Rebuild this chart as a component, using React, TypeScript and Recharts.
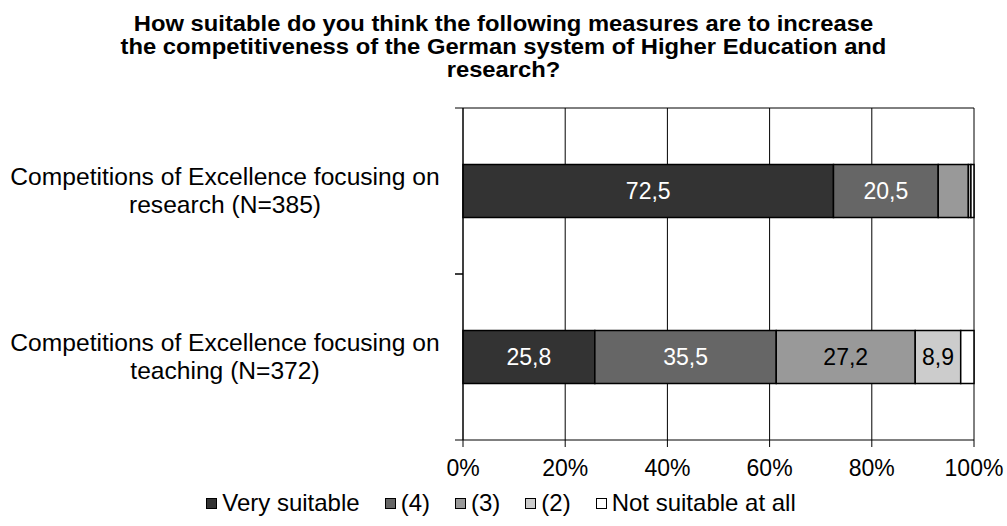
import React from 'react';
import { BarChart, Bar, XAxis, YAxis, CartesianGrid, Legend, LabelList } from 'recharts';

const categories = [
    'Competitions of Excellence focusing on\nresearch (N=385)',
    'Competitions of Excellence focusing on\nteaching (N=372)'
];
const verySuitable = [72.5, 25.8];
const rating4 = [20.5, 35.5];
const rating3 = [5.9, 27.2];
const rating2 = [0.5, 8.9];
const notSuitable = [0.6, 2.6];
const xTicks = [0, 20, 40, 60, 80, 100];

const seriesList = [
    { key: 'verySuitable', name: 'Very suitable', values: verySuitable, color: '#333333', labelColor: '#ffffff' },
    { key: 'rating4', name: '(4)', values: rating4, color: '#666666', labelColor: '#ffffff' },
    { key: 'rating3', name: '(3)', values: rating3, color: '#999999', labelColor: '#000000' },
    { key: 'rating2', name: '(2)', values: rating2, color: '#cccccc', labelColor: '#000000' },
    { key: 'notSuitable', name: 'Not suitable at all', values: notSuitable, color: '#ffffff', labelColor: '#000000' }
];

const data = categories.map((category, i) => {
    const row: Record<string, string | number> = { category };
    seriesList.forEach(s => { row[s.key] = s.values[i]; });
    return row;
});

const chartWidth = 1007;
const chartHeight = 526;
const margin = { top: 108, right: 33, bottom: 8, left: 0 };
const legendHeight = 30;
const xAxisHeight = 48;
const plotHeight = chartHeight - margin.top - margin.bottom - legendHeight - xAxisHeight;
const font = '"Liberation Sans", Arial, sans-serif';

const formatLabel = (v: any) => (Number(v) >= 8 ? String(v).replace('.', ',') : '');

const CategoryTick = (props: any) => {
    const { x, y, payload } = props;
    const lines = String(payload.value).split('\n');
    const band = plotHeight / categories.length;
    const cx = x - 238;
    return (
        <g>
            <line x1={x - 8} x2={x} y1={y - band / 2} y2={y - band / 2} stroke="#000" />
            <line x1={x - 8} x2={x} y1={y + band / 2} y2={y + band / 2} stroke="#000" />
            <text x={cx} y={y} textAnchor="middle" fontSize={24.6} fill="#000" fontFamily={font}>
                {lines.map((line, i) => (
                    <tspan key={i} x={cx} dy={i === 0 ? -6 : 28}>{line}</tspan>
                ))}
            </text>
        </g>
    );
};

// legend follows the series order, not the (reversed) payload order
const LegendContent = () => (
    <div style={{ display: 'flex', justifyContent: 'center', alignItems: 'center', height: legendHeight, paddingLeft: 28, fontFamily: font, fontSize: 24, color: '#000' }}>
        {seriesList.map((s, i) => (
            <div key={s.key} style={{ display: 'flex', alignItems: 'center', marginLeft: i === 0 ? 0 : 25 }}>
                <span style={{ display: 'inline-block', width: 9, height: 9, border: '1.5px solid #000', background: s.color, marginRight: 5 }} />
                <span>{s.name}</span>
            </div>
        ))}
    </div>
);

const App = () => {
    return (
        <div style={{ position: 'absolute', left: 0, top: 0, width: chartWidth, height: chartHeight, background: '#fff' }}>
            <div style={{ position: 'absolute', left: 0, top: 12, width: chartWidth, textAlign: 'center', fontFamily: font, fontWeight: 'bold', fontSize: 22, lineHeight: '23px', color: '#000', transform: 'scaleX(1.08)', transformOrigin: '50% 0' }}>
                How suitable do you think the following measures are to increase<br />
                the competitiveness of the German system of Higher Education and<br />
                research?
            </div>
            <BarChart width={chartWidth} height={chartHeight} data={data} layout="vertical" margin={margin} barCategoryGap="34%">
                <CartesianGrid
                    stroke="#000"
                    horizontalCoordinatesGenerator={({ offset }: any) => [offset.top]}
                />
                <XAxis
                    type="number"
                    domain={[0, 100]}
                    ticks={xTicks}
                    tickFormatter={v => `${v}%`}
                    height={xAxisHeight}
                    tickSize={7}
                    tickMargin={13}
                    stroke="#000"
                    tick={{ fill: '#000', fontSize: 23, fontFamily: font }}
                />
                <YAxis
                    type="category"
                    dataKey="category"
                    width={463}
                    tickSize={0}
                    tickMargin={0}
                    stroke="#000"
                    tick={<CategoryTick />}
                />
                <Legend verticalAlign="bottom" height={legendHeight} content={<LegendContent />} />
                {seriesList.map(s => (
                    <Bar
                        key={s.key}
                        dataKey={s.key}
                        name={s.name}
                        stackId="a"
                        fill={s.color}
                        stroke="#000"
                        strokeWidth={1.5}
                        isAnimationActive={false}
                    >
                        <LabelList dataKey={s.key} position="center" formatter={formatLabel} fill={s.labelColor} fontSize={23} fontFamily={font} />
                    </Bar>
                ))}
            </BarChart>
        </div>
    );
};

export default App;
